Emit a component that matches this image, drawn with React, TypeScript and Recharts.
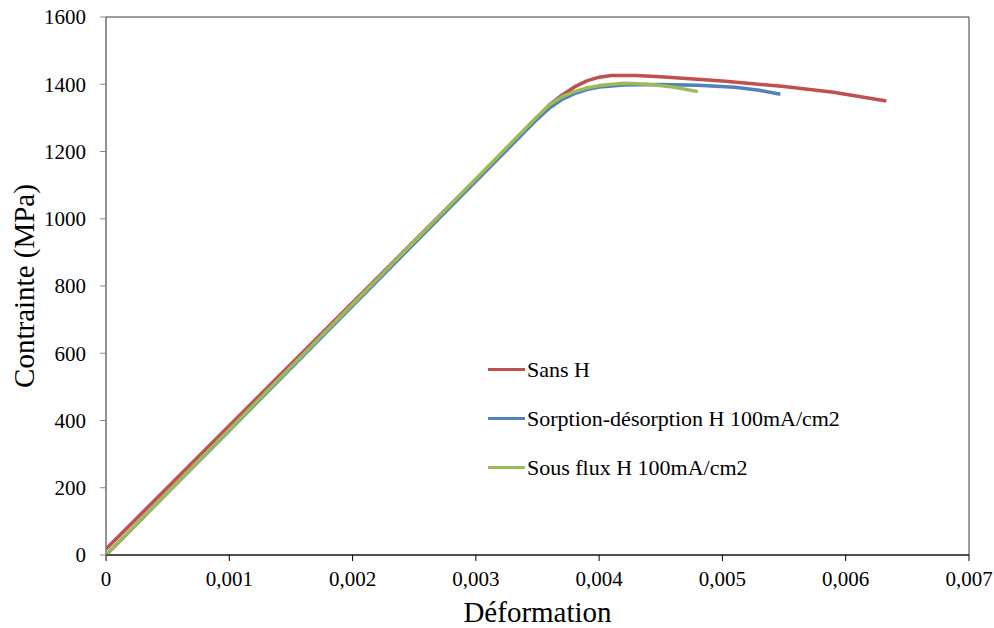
import React from 'react';
import { LineChart, Line, XAxis, YAxis, ReferenceArea } from 'recharts';

const sansH_x = [0, 0.0035, 0.0036, 0.0037, 0.0038, 0.0039, 0.004, 0.0041, 0.0043, 0.0045, 0.005, 0.0055, 0.0059, 0.00633];
const sansH_y = [18, 1300, 1340, 1368, 1392, 1410, 1421, 1426, 1426, 1422, 1410, 1393, 1376, 1350];

const sorption_x = [0, 0.0035, 0.0036, 0.0037, 0.0038, 0.0039, 0.004, 0.0042, 0.0045, 0.0048, 0.0051, 0.0053, 0.00547];
const sorption_y = [0, 1297, 1330, 1355, 1372, 1384, 1392, 1398, 1399, 1397, 1391, 1382, 1370];

const flux_x = [0, 0.0035, 0.0036, 0.0037, 0.0038, 0.0039, 0.004, 0.0042, 0.0044, 0.0046, 0.0048];
const flux_y = [0, 1305, 1340, 1363, 1378, 1389, 1396, 1403, 1400, 1392, 1378];

const xTicks = [0, 0.001, 0.002, 0.003, 0.004, 0.005, 0.006, 0.007];
const yTicks = [0, 200, 400, 600, 800, 1000, 1200, 1400, 1600];

const seriesNames = ['Sans H', 'Sorption-désorption H 100mA/cm2', 'Sous flux H 100mA/cm2'];
const seriesColors = ['#C0504D', '#4F81BD', '#9BBB59'];

const zip = (xs: number[], ys: number[]) => xs.map((x, i) => ({ x, y: ys[i] }));
const series = [zip(sansH_x, sansH_y), zip(sorption_x, sorption_y), zip(flux_x, flux_y)];

const FONT = '"Liberation Serif", "Times New Roman", serif';

const fmtX = (v: number) => (v === 0 ? '0' : v.toFixed(3).replace('.', ','));

const LegendBox = () => (
  <div style={{ position: 'absolute', left: 488, top: 345, fontFamily: FONT, fontSize: 22, color: '#000', width: 440 }}>
    {seriesNames.map((n, i) => (
      <div key={n} style={{ display: 'flex', alignItems: 'center', height: 49 }}>
        <div style={{ width: 37, height: 3, background: seriesColors[i], marginRight: 2 }} />
        <span style={{ lineHeight: '22px' }}>{n}</span>
      </div>
    ))}
  </div>
);

export default function App() {
  return (
    <div style={{ position: 'absolute', left: 0, top: 0, width: 994, height: 628, background: '#fff', fontFamily: FONT }}>
      <LineChart width={994} height={628} margin={{ top: 17, right: 25, bottom: 0, left: 0 }} style={{ fontFamily: FONT }}>
        <XAxis
          type="number"
          dataKey="x"
          domain={[0, 0.007]}
          ticks={xTicks}
          tickFormatter={fmtX}
          allowDataOverflow
          stroke="#000"
          tickSize={6}
          tickMargin={10}
          height={73}
          tick={{ fontFamily: FONT, fontSize: 21, fill: '#000' }}
          label={{ value: 'Déformation', position: 'insideBottom', offset: 6, style: { fontFamily: FONT, fontSize: 29, fill: '#000' } }}
        />
        <YAxis
          type="number"
          dataKey="y"
          domain={[0, 1600]}
          ticks={yTicks}
          width={106}
          stroke="#868686"
          tickSize={6}
          tickMargin={14}
          tick={{ fontFamily: FONT, fontSize: 21, fill: '#000' }}
          label={{ value: 'Contrainte (MPa)', angle: -90, position: 'insideLeft', offset: 24, style: { fontFamily: FONT, fontSize: 29, fill: '#000', textAnchor: 'middle' } }}
        />
        <ReferenceArea x1={0} x2={0.007} y1={0} y2={1600} fill="none" stroke="#3a3a3a" strokeWidth={1} />
        {series.map((d, i) => (
          <Line
            key={seriesNames[i]}
            data={d}
            dataKey="y"
            name={seriesNames[i]}
            type="linear"
            stroke={seriesColors[i]}
            strokeWidth={3.5}
            strokeLinejoin="round"
            dot={false}
            isAnimationActive={false}
          />
        ))}
      </LineChart>
      <LegendBox />
    </div>
  );
}
